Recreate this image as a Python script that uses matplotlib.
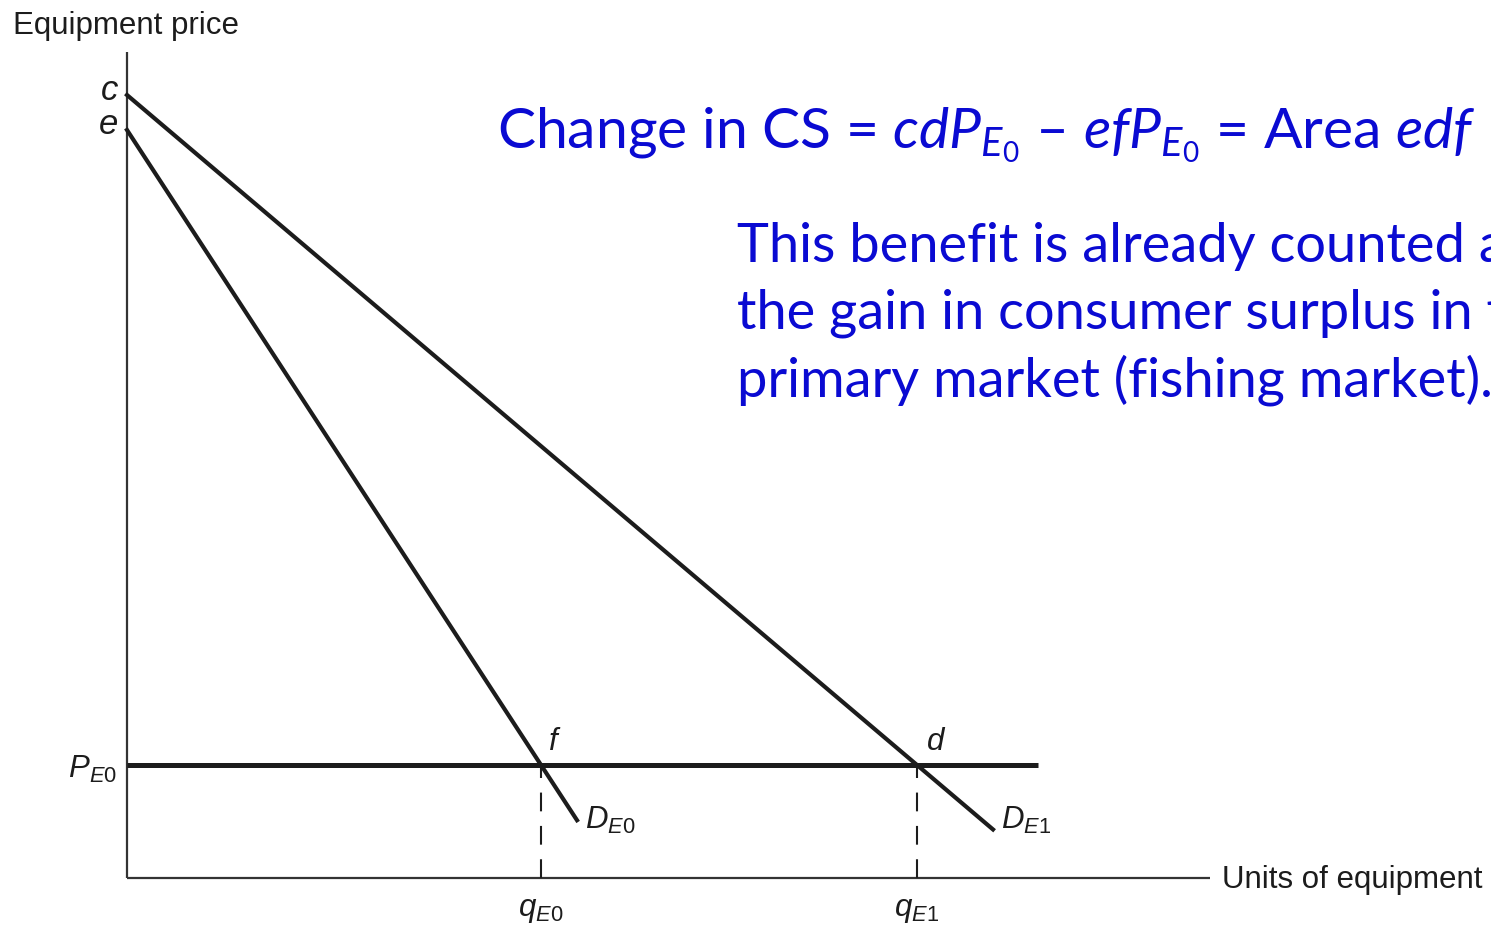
import matplotlib
matplotlib.use('Agg')
import matplotlib.pyplot as plt

plt.rcParams['mathtext.fontset'] = 'custom'
plt.rcParams['mathtext.rm'] = 'Lato'
plt.rcParams['mathtext.it'] = 'Lato:italic'
plt.rcParams['mathtext.sf'] = 'Liberation Sans:italic'
plt.rcParams['mathtext.bf'] = 'Liberation Sans'

# economic values (price and quantity units)
price_c = 7.83      # intercept of D_E1
price_e = 7.48      # intercept of D_E0
price_p = 1.13      # P_E0
q_e0 = 4.14
q_e1 = 7.90
d0_end = 4.50       # where D_E0 is drawn to
d1_end = 8.66       # where D_E1 is drawn to
p_line_end = 9.11
x_axis_end = 10.83
y_axis_top = 8.26

blue = '#0a0ad2'
ink = '#1c1c1c'

fig = plt.figure(figsize=(14.91, 9.38), dpi=100)
ax = fig.add_axes([0, 0, 1, 1])
ax.set_xlim(-1.27, 13.64)
ax.set_ylim(-0.60, 8.78)
ax.axis('off')

# axes
ax.plot([0, 0], [0, y_axis_top], color='#333333', lw=1.6, solid_capstyle='butt')
ax.plot([0, x_axis_end], [0, 0], color='#333333', lw=1.6, solid_capstyle='butt')

# demand curves
def demand(p0, q, x):
    slope = (p0 - price_p) / q
    return p0 - slope * x

ax.plot([0, d0_end], [price_e, demand(price_e, q_e0, d0_end)], color=ink, lw=3.0)
ax.plot([0, d1_end], [price_c, demand(price_c, q_e1, d1_end)], color=ink, lw=3.0)

# price line
ax.plot([0, p_line_end], [price_p, price_p], color=ink, lw=3.6, solid_capstyle='butt')

# dashed drop lines
for q in (q_e0, q_e1):
    ax.plot([q, q], [0, price_p], color=ink, lw=1.5, dashes=(9, 7))

# labels
lab = dict(color=ink, fontsize=22.5, family='Liberation Sans')
ax.text(-0.09, price_c + 0.05, 'c', style='italic', ha='right', va='center',
        color=ink, fontsize=25, family='Liberation Sans')
ax.text(-0.09, price_e + 0.05, 'e', style='italic', ha='right', va='center',
        color=ink, fontsize=25, family='Liberation Sans')
ax.text(-0.10, price_p - 0.04, r'$\mathsf{P_{E\mathbf{0}}}$', ha='right', va='center', **lab)
ax.text(q_e0 + 0.08, price_p + 0.08, 'f', style='italic', ha='left', va='bottom', **lab)
ax.text(q_e1 + 0.10, price_p + 0.08, 'd', style='italic', ha='left', va='bottom', **lab)
ax.text(d0_end + 0.08, 0.58, r'$\mathsf{D_{E\mathbf{0}}}$', ha='left', va='center', **lab)
ax.text(d1_end + 0.08, 0.58, r'$\mathsf{D_{E\mathbf{1}}}$', ha='left', va='center', **lab)
ax.text(q_e0, -0.17, r'$\mathsf{q_{E\mathbf{0}}}$', ha='center', va='top', **lab)
ax.text(q_e1, -0.17, r'$\mathsf{q_{E\mathbf{1}}}$', ha='center', va='top', **lab)
ax.text(x_axis_end + 0.12, -0.02, 'Units of equipment', ha='left', va='center', **lab)
ax.text(-1.14, 8.52, 'Equipment price', ha='left', va='center', **lab)

# blue annotation
main_line = (r'Change in CS = $\mathit{cdP_{E_{0}}}$ – $\mathit{efP_{E_{0}}}$'
             r' = Area $\mathit{edf}$')
ax.text(3.70, 7.30, main_line, color=blue, fontsize=41, family='Lato',
        ha='left', va='baseline')
note_lines = ['This benefit is already counted as',
              'the gain in consumer surplus in the',
              'primary market (fishing market).']
for i, line in enumerate(note_lines):
    ax.text(6.10, 6.16 - 0.67 * i, line, color=blue, fontsize=39,
            family='Lato', ha='left', va='baseline')

fig.savefig('out.png', dpi=100)
